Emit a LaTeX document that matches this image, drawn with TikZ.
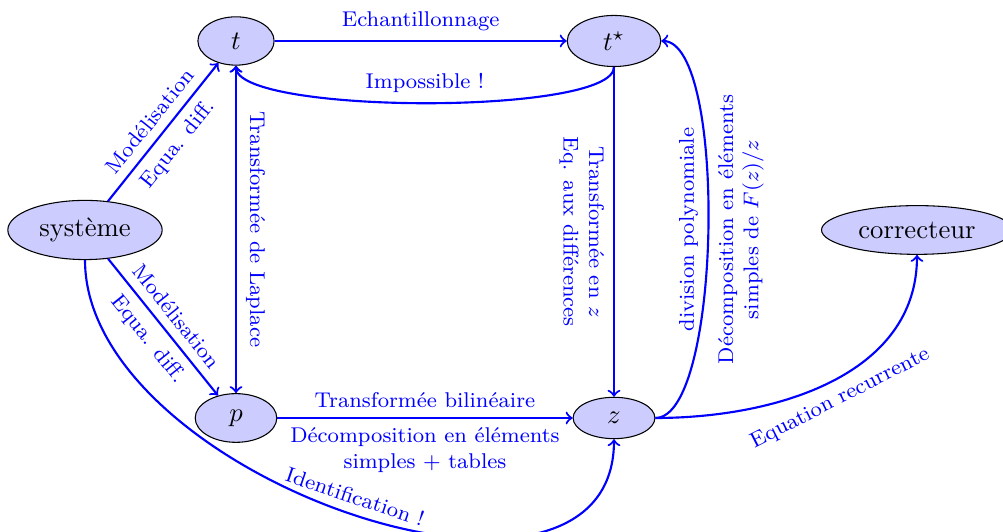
\documentclass[tikz,border=0pt]{standalone}
\usetikzlibrary{shapes.geometric}
\begin{document}
\begin{tikzpicture}[x=0.375pt,y=0.375pt,
  etat/.style={ellipse,draw,fill=blue!20,inner xsep=8.3pt,inner ysep=3.33pt},
  sysn/.style={ellipse,draw,fill=blue!20},
  fl/.style={->,blue,thick},
  lab/.style={font=\footnotesize,text=blue,align=center}]
\useasboundingbox (0,0) rectangle (1003,532);
\node[sysn] (sys) at (85,302) {système};
\node[etat] (t) at (236,491) {$t$};
\node[etat] (ts) at (614,491) {$t^\star$};
\node[etat] (p) at (236,114) {$p$};
\node[etat] (z) at (614,114) {$z$};
\node[sysn] (cor) at (917,302) {correcteur};

\draw[fl] (t) -- node[lab,above]{Echantillonnage} (ts);
\draw[fl] (ts) to[out=-90,in=-90,looseness=0.33] node[lab,above]{Impossible !} (t);
\draw[fl,<->] (t) -- node[lab,rotate=-90,anchor=south]{Transformée de Laplace} (p);
\draw[fl] (ts) -- node[lab,rotate=-90,anchor=north]{Transformée en $z$\\Eq. aux différences} (z);
\draw[fl] (z) to[out=0,in=0,looseness=0.45]
  node[lab,rotate=90,anchor=south]{division polynomiale}
  node[lab,rotate=90,anchor=north]{Décomposition en éléments\\simples de $F(z)/z$} (ts);
\draw[fl] (p) -- node[lab,above]{Transformée bilinéaire}
  node[lab,below]{Décomposition en éléments\\simples + tables} (z);
\draw[fl] (sys) -- node[lab,above,sloped]{Modélisation} node[lab,below,sloped]{Equa. diff.} (t);
\draw[fl] (sys) -- node[lab,above,sloped]{Modélisation} node[lab,below,sloped]{Equa. diff.} (p);
\draw[fl] (sys) to[out=-90,in=-90] node[lab,above,sloped]{Identification !} (z);
\draw[fl] (z) to[out=0,in=-90] node[lab,below,sloped]{Equation recurrente} (cor);
\end{tikzpicture}
\end{document}
